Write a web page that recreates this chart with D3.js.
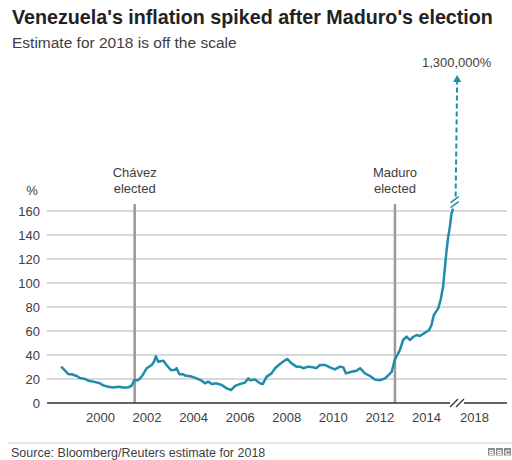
<!DOCTYPE html>
<html>
<head>
<meta charset="utf-8">
<script src="https://cdn.jsdelivr.net/npm/d3@7"></script>
<style>
  body { margin: 0; background: #fff; }
  svg { display: block; font-family: "Liberation Sans", Arial, Helvetica, sans-serif; }
  .title { font-size: 19.7px; font-weight: bold; fill: #222; }
  .subtitle { font-size: 15.5px; fill: #404040; }
  .tick text { font-size: 13px; fill: #404040; }
  .grid { stroke: #cccccc; stroke-width: 1.5; }
  .event { stroke: #9a9a9a; stroke-width: 2.5; }
  .eventlabel { font-size: 13px; fill: #404040; text-anchor: middle; }
  .inflation { fill: none; stroke: #1f8cab; stroke-width: 2.5; stroke-linejoin: round; }
  .source { font-size: 12.5px; fill: #404040; }
</style>
</head>
<body>
<svg width="512" height="460"></svg>
<script>
// inflation, % year on year
const years = [1998.33,1998.50,1998.64,1998.78,1999.00,1999.14,1999.36,1999.50,1999.71,2000.00,
  2000.14,2000.36,2000.57,2000.79,2001.00,2001.22,2001.36,2001.47,2001.64,2001.79,
  2002.01,2002.22,2002.32,2002.40,2002.50,2002.72,2002.86,2003.04,2003.22,2003.29,
  2003.41,2003.55,2003.65,2003.94,2004.15,2004.37,2004.51,2004.65,2004.80,2005.01,
  2005.23,2005.44,2005.63,2005.80,2006.01,2006.23,2006.37,2006.44,2006.66,2006.87,
  2006.99,2007.16,2007.37,2007.52,2007.73,2007.97,2008.04,2008.23,2008.44,2008.59,
  2008.73,2008.95,2009.16,2009.30,2009.45,2009.66,2009.88,2010.09,2010.31,2010.45,
  2010.56,2010.81,2011.02,2011.17,2011.38,2011.60,2011.81,2012.02,2012.24,2012.38,
  2012.53,2012.67,2012.88,2013.02,2013.17,2013.31,2013.45,2013.60,2013.74,2013.96,
  2014.14,2014.24,2014.34,2014.53,2014.63,2014.74,2014.82,2014.89,2014.96,2015.03,
  2015.10,2015.17]
const values = [30.3,27,24,24,22.5,20.8,20,18.6,17.8,16.4,
  14.7,13.6,13,13.6,13,13,14.4,19,19,22,
  29,31.7,34.4,39,34.4,35.3,31.7,27.5,27.5,29,
  24,24,23,22,20.5,18.6,16.4,17.8,15.8,16.4,
  15,12.2,10.8,14.2,15.8,17,20.5,19,19.5,16.4,
  15.8,22,24.7,29,32.5,35.8,36.7,33,30.3,30.3,
  29,30.3,29.7,29,31.7,31.7,29.7,28,30.3,29.7,
  24.7,26,26.9,29,24.7,22.5,19.5,19,20.5,23,
  26,36.4,44,52.5,55.3,52.5,55,56.7,55.8,58.6,
  60.8,65,73.3,78.9,85.8,97,113.6,127.5,138.6,147,
  158,162]

const eventNames = ["Chávez", "Maduro"]
const eventYears = [2001.49, 2012.67]

const xTicks = [2000, 2002, 2004, 2006, 2008, 2010, 2012, 2014, 2018]
const yTicks = [0, 20, 40, 60, 80, 100, 120, 140, 160]

const estimateYear = 2018
const estimateValue = 1300000

const data = years.map((y, i) => ({year: y, value: values[i]}))

const svg = d3.select("svg")

// axis is broken between 2015.25 and ~2017.2
const xScale = d3.scaleLinear()
  .domain([2000, 2015.25, 2017.18, 2018])
  .range([100, 455, 455, 474])

const yScale = d3.scaleLinear()
  .domain([0, 160])
  .range([403, 211])

const left = 47
const right = 507

svg.append("text")
  .attr("class", "title")
  .attr("x", 12)
  .attr("y", 24)
  .text("Venezuela's inflation spiked after Maduro's election")

svg.append("text")
  .attr("class", "subtitle")
  .attr("x", 12)
  .attr("y", 48)
  .text("Estimate for 2018 is off the scale")

// grid
svg.append("g")
  .selectAll("line")
  .data(yTicks.filter(d => d > 0))
  .enter().append("line")
  .attr("class", "grid")
  .attr("x1", left)
  .attr("x2", right)
  .attr("y1", d => yScale(d))
  .attr("y2", d => yScale(d))

const yAxis = svg.append("g")
  .attr("transform", `translate(40,0)`)
  .call(d3.axisLeft(yScale).tickValues(yTicks).tickSize(0).tickPadding(0))
yAxis.select(".domain").remove()

svg.append("text")
  .attr("class", "eventlabel")
  .attr("x", 32)
  .attr("y", 195)
  .text("%")

const xAxis = svg.append("g")
  .attr("transform", `translate(0,${yScale(0)})`)
  .call(d3.axisBottom(xScale).tickValues(xTicks).tickFormat(d3.format("d")).tickSize(0).tickPadding(10))
xAxis.select(".domain").remove()

// election markers
const events = svg.append("g")
  .selectAll("g")
  .data(eventNames)
  .enter().append("g")

events.append("line")
  .attr("class", "event")
  .attr("x1", (d, i) => xScale(eventYears[i]))
  .attr("x2", (d, i) => xScale(eventYears[i]))
  .attr("y1", 204)
  .attr("y2", yScale(0))

events.append("text")
  .attr("class", "eventlabel")
  .attr("x", (d, i) => xScale(eventYears[i]))
  .attr("y", 177)
  .text(d => d)

events.append("text")
  .attr("class", "eventlabel")
  .attr("x", (d, i) => xScale(eventYears[i]))
  .attr("y", 193)
  .text("elected")

// baseline with break
const gap = xScale(2015.25)
svg.append("line")
  .attr("x1", left).attr("x2", gap - 5)
  .attr("y1", yScale(0)).attr("y2", yScale(0))
  .attr("stroke", "#333").attr("stroke-width", 1.5)
svg.append("line")
  .attr("x1", gap + 9).attr("x2", right)
  .attr("y1", yScale(0)).attr("y2", yScale(0))
  .attr("stroke", "#333").attr("stroke-width", 1.5)
svg.append("g")
  .selectAll("line")
  .data([-5, 1])
  .enter().append("line")
  .attr("x1", d => gap + d)
  .attr("x2", d => gap + d + 8)
  .attr("y1", yScale(0) + 4)
  .attr("y2", yScale(0) - 4)
  .attr("stroke", "#333").attr("stroke-width", 1.3)

const line = d3.line()
  .x(d => xScale(d.year))
  .y(d => yScale(d.value))

svg.append("path")
  .datum(data)
  .attr("class", "inflation")
  .attr("d", line)

// break on the line and dashed arrow to the 2018 estimate
const last = data[data.length - 1]
const bx = xScale(last.year) + 1.5
const by = yScale(last.value) - 4
svg.append("g")
  .selectAll("line")
  .data([0, 5])
  .enter().append("line")
  .attr("x1", bx - 4)
  .attr("x2", bx + 4)
  .attr("y1", d => by - d + 3)
  .attr("y2", d => by - d - 3)
  .attr("stroke", "#1f8cab").attr("stroke-width", 1.5)

const tipY = 75
svg.append("line")
  .attr("x1", bx + 1).attr("y1", by - 8)
  .attr("x2", bx + 2.5).attr("y2", tipY + 6)
  .attr("stroke", "#1f8cab").attr("stroke-width", 2)
  .attr("stroke-dasharray", "5,3")

svg.append("path")
  .attr("d", `M${bx + 2.5},${tipY} L${bx - 1.5},${tipY + 7} L${bx + 6.5},${tipY + 7} Z`)
  .attr("fill", "#1f8cab")

svg.append("text")
  .attr("class", "eventlabel")
  .attr("x", bx + 2)
  .attr("y", 67)
  .text(d3.format(",")(estimateValue) + "%")

// footer
svg.append("line")
  .attr("x1", 8).attr("x2", 512)
  .attr("y1", 443).attr("y2", 443)
  .attr("stroke", "#cccccc").attr("stroke-width", 1)

svg.append("text")
  .attr("class", "source")
  .attr("x", 11)
  .attr("y", 457)
  .text("Source: Bloomberg/Reuters estimate for 2018")

const logo = svg.append("g")
  .selectAll("g")
  .data(["B", "B", "C"])
  .enter().append("g")
  .attr("transform", (d, i) => `translate(${488 + i * 8},448)`)
logo.append("rect")
  .attr("width", 7).attr("height", 7.5)
  .attr("fill", "#8c8c8c")
logo.append("text")
  .attr("x", 3.5).attr("y", 6.5)
  .attr("text-anchor", "middle")
  .attr("font-size", 7)
  .attr("font-weight", "bold")
  .attr("fill", "#fff")
  .text(d => d)
</script>
</body>
</html>
